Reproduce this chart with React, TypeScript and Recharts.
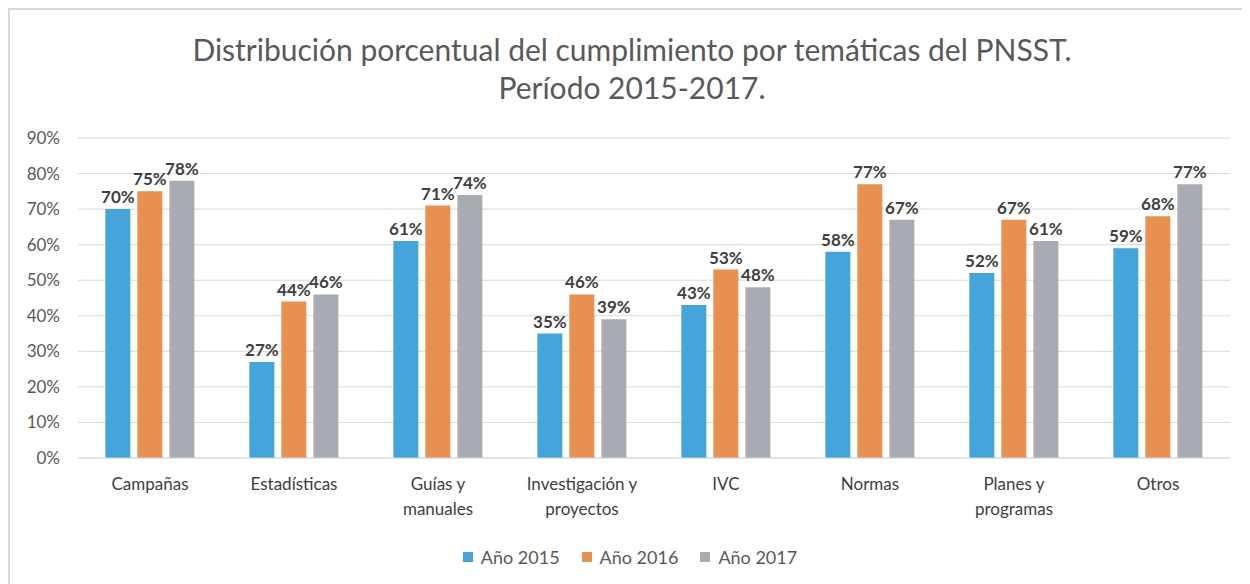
import React from "react";
import {
  BarChart,
  Bar,
  XAxis,
  YAxis,
  CartesianGrid,
  Legend,
  LabelList,
} from "recharts";

// categories (line breaks as in the original)
const categories = [
  "Campañas",
  "Estadísticas",
  "Guías y\nmanuales",
  "Investigación y\nproyectos",
  "IVC",
  "Normas",
  "Planes y\nprogramas",
  "Otros",
];

const year2015 = [70, 27, 61, 35, 43, 58, 52, 59];
const year2016 = [75, 44, 71, 46, 53, 77, 67, 68];
const year2017 = [78, 46, 74, 39, 48, 67, 61, 77];

const yTicks = [0, 10, 20, 30, 40, 50, 60, 70, 80, 90];

const series = [
  { key: "y2015", name: "Año 2015", color: "#45a5da" },
  { key: "y2016", name: "Año 2016", color: "#e8904f" },
  { key: "y2017", name: "Año 2017", color: "#a8acb2" },
];

const data = categories.map((c, i) => ({
  name: c,
  y2015: year2015[i],
  y2016: year2016[i],
  y2017: year2017[i],
}));

const FONT = "Lato, 'Liberation Sans', sans-serif";

function CategoryTick(props: any) {
  const { x, y, payload } = props;
  const lines = String(payload.value).split("\n");
  return (
    <g transform={`translate(${x},${y})`}>
      {lines.map((line: string, i: number) => (
        <text
          key={i}
          x={0}
          y={i * 25}
          dy={24}
          textAnchor="middle"
          fill="#404040"
          fontSize={17}
          fontFamily={FONT}
        >
          {line}
        </text>
      ))}
    </g>
  );
}

function LegendContent() {
  return (
    <div
      style={{
        display: "flex",
        justifyContent: "center",
        gap: 22,
        fontFamily: FONT,
        fontSize: 18,
        color: "#595959",
      }}
    >
      {series.map((s) => (
        <div key={s.key} style={{ display: "flex", alignItems: "center" }}>
          <span
            style={{
              width: 10,
              height: 10,
              background: s.color,
              display: "inline-block",
              marginRight: 8,
            }}
          />
          {s.name}
        </div>
      ))}
    </div>
  );
}

export default function App() {
  return (
    <div
      style={{
        position: "relative",
        width: 1242,
        height: 576,
        borderTop: "2px solid #d9d9d9",
        borderLeft: "2px solid #d9d9d9",
        boxSizing: "border-box",
        background: "#fff",
      }}
    >
      <div
        style={{
          position: "absolute",
          left: 0,
          top: 20,
          width: 1244,
          textAlign: "center",
          fontFamily: FONT,
          fontWeight: 400,
          fontSize: 30,
          lineHeight: "38px",
          color: "#595959",
        }}
      >
        Distribución porcentual del cumplimiento por temáticas del PNSST.
        <br />
        Período 2015-2017.
      </div>
      <BarChart
        width={1240}
        height={574}
        data={data}
        margin={{ top: 128, right: 20, left: 0, bottom: 34 }}
        barCategoryGap="19%"
        barGap={7}
      >
        <CartesianGrid vertical={false} stroke="#d9d9d9" />
        <XAxis
          dataKey="name"
          axisLine={{ stroke: "#d9d9d9" }}
          tickLine={false}
          tick={<CategoryTick />}
          interval={0}
          height={70}
        />
        <YAxis
          width={68}
          domain={[0, 90]}
          ticks={yTicks}
          axisLine={false}
          tickLine={false}
          tickMargin={12}
          tickFormatter={(v: number) => `${v}%`}
          tick={{ fill: "#595959", fontSize: 17, fontFamily: FONT }}
        />
        <Legend
          verticalAlign="bottom"
          content={<LegendContent />}
          wrapperStyle={{ bottom: 16, left: 0, width: 1240 }}
        />
        {series.map((s) => (
          <Bar
            key={s.key}
            dataKey={s.key}
            name={s.name}
            fill={s.color}
            isAnimationActive={false}
          >
            <LabelList
              dataKey={s.key}
              position="top"
              offset={6}
              formatter={(v: any) => `${v}%`}
              fill="#404040"
              fontSize={17}
              fontWeight="bold"
              fontFamily={FONT}
            />
          </Bar>
        ))}
      </BarChart>
    </div>
  );
}
